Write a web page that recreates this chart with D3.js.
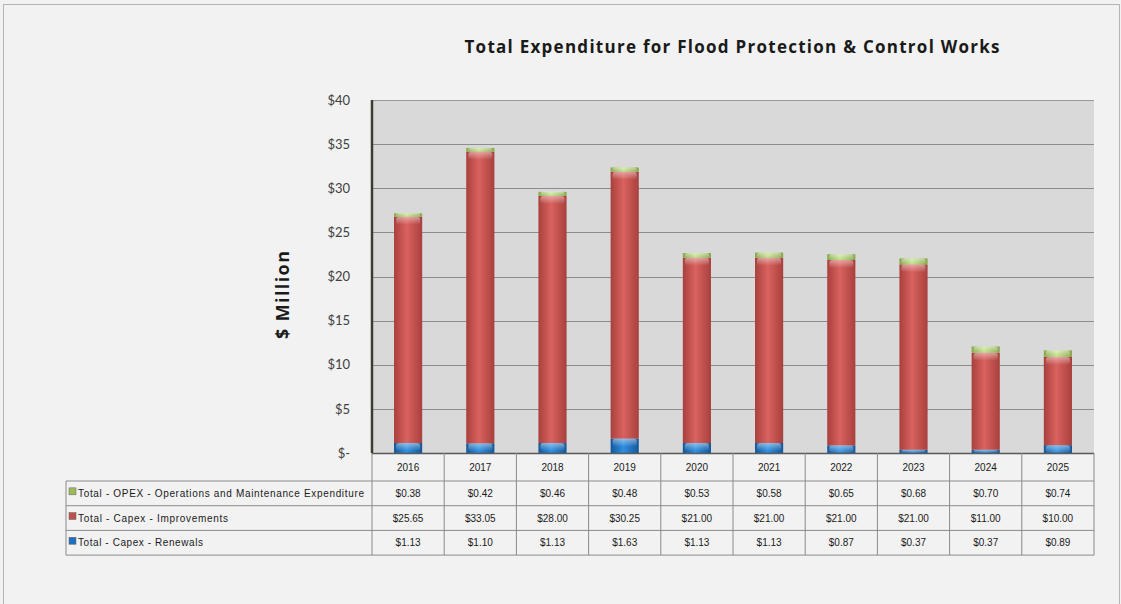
<!DOCTYPE html>
<html>
<head>
<meta charset="utf-8">
<script src="https://cdn.jsdelivr.net/npm/d3@7"></script>
<style>
    body { margin: 0; background: #f2f2f2; }
    svg { display: block; font-family: 'Liberation Sans', Arial, sans-serif; }
</style>
</head>
<body>
<div id="chart"></div>
<script>
'use strict';

// data
var years = ['2016', '2017', '2018', '2019', '2020', '2021', '2022', '2023', '2024', '2025']
var opex = [0.38, 0.42, 0.46, 0.48, 0.53, 0.58, 0.65, 0.68, 0.70, 0.74]
var improvements = [25.65, 33.05, 28.00, 30.25, 21.00, 21.00, 21.00, 21.00, 11.00, 10.00]
var renewals = [1.13, 1.10, 1.13, 1.63, 1.13, 1.13, 0.87, 0.37, 0.37, 0.89]
var yTicks = [0, 5, 10, 15, 20, 25, 30, 35, 40]

var seriesNames = ['Total - OPEX - Operations and Maintenance Expenditure', 'Total - Capex - Improvements', 'Total - Capex - Renewals']
var seriesKeys = ['opex', 'imp', 'ren']

var width = 1121, height = 604
var plot = { left: 372, right: 1094, top: 100, bottom: 453 }
var table = { left: 66, yearRow: 481, rowH: 24.7 }
var labelLen = [286, 150, 125] // widths of the row labels in the table

var svg = d3.select('#chart').append('svg').attr('width', width).attr('height', height)

// colour gradients (edge - centre - edge) to mimic the 3d cylinder look
var colors = {
    ren: ['#14579a', '#2f8fe0', '#14579a'],
    imp: ['#a8403d', '#d9625e', '#a8403d'],
    opex: ['#86a64a', '#c2df8a', '#86a64a']
}
var defs = svg.append('defs')
seriesKeys.forEach(function(k) {
    var g = defs.append('linearGradient').attr('id', 'g_' + k).attr('x1', 0).attr('x2', 1).attr('y1', 0).attr('y2', 0)
    g.append('stop').attr('offset', '0%').attr('stop-color', colors[k][0])
    g.append('stop').attr('offset', '45%').attr('stop-color', colors[k][1])
    g.append('stop').attr('offset', '100%').attr('stop-color', colors[k][2])
})
var topG = defs.append('linearGradient').attr('id', 'g_top').attr('x1', 0).attr('x2', 0).attr('y1', 0).attr('y2', 1)
topG.append('stop').attr('offset', '0%').attr('stop-color', '#fff').attr('stop-opacity', 0.45)
topG.append('stop').attr('offset', '100%').attr('stop-color', '#fff').attr('stop-opacity', 0)

// outer frame
svg.append('rect').attr('x', 3.5).attr('y', 4.5).attr('width', 1116).attr('height', 600)
    .attr('fill', '#f2f2f2').attr('stroke', '#b4b4b4')

var x = d3.scaleBand().domain(years).range([plot.left, plot.right]).padding(0)
var y = d3.scaleLinear().domain([0, 40]).range([plot.bottom, plot.top])
var barW = x.bandwidth() * 0.39

// plot area
svg.append('rect').attr('x', plot.left).attr('y', plot.top)
    .attr('width', plot.right - plot.left).attr('height', plot.bottom - plot.top)
    .attr('fill', '#d9d9d9')

svg.append('g').selectAll('line').data(yTicks.slice(1)).enter().append('line')
    .attr('x1', plot.left).attr('x2', plot.right)
    .attr('y1', function(d) { return Math.round(y(d)) + 0.5 })
    .attr('y2', function(d) { return Math.round(y(d)) + 0.5 })
    .attr('stroke', function(d) { return d == 40 ? '#9a9a9a' : '#8c8c8c' })

// y axis labels
var yAxis = d3.axisLeft(y).tickValues(yTicks).tickSize(0).tickPadding(22)
    .tickFormat(function(d) { return d == 0 ? '$-' : '$' + d })
var ya = svg.append('g').attr('transform', 'translate(' + plot.left + ',0)').call(yAxis)
ya.select('.domain').remove()
ya.selectAll('text').attr('font-size', 13).attr('fill', '#404040').attr('font-family', 'Lato, sans-serif')

// stacked bars
var rows = years.map(function(yr, i) { return { year: yr, ren: renewals[i], imp: improvements[i], opex: opex[i] } })
var stack = d3.stack().keys(['ren', 'imp', 'opex'])(rows)

var layers = svg.append('g').selectAll('g').data(stack).enter().append('g')
layers.each(function(layer) {
    var g = d3.select(this)
    g.selectAll('rect.seg').data(layer).enter().append('rect')
        .attr('class', 'seg')
        .attr('x', function(d) { return x(d.data.year) + (x.bandwidth() - barW) / 2 })
        .attr('y', function(d) { return y(d[1]) })
        .attr('width', barW)
        .attr('height', function(d) { return y(d[0]) - y(d[1]) })
        .attr('fill', 'url(#g_' + layer.key + ')')
    // light top face of each segment
    g.selectAll('rect.hl').data(layer).enter().append('rect')
        .attr('class', 'hl')
        .attr('x', function(d) { return x(d.data.year) + (x.bandwidth() - barW) / 2 + 2 })
        .attr('y', function(d) { return y(d[1]) })
        .attr('width', barW - 4)
        .attr('height', function(d) { return Math.min(8, y(d[0]) - y(d[1])) })
        .attr('rx', 3)
        .attr('fill', 'url(#g_top)')
})

// axis lines
svg.append('line').attr('x1', plot.left).attr('x2', plot.left).attr('y1', plot.top).attr('y2', table.yearRow + 3 * table.rowH)
    .attr('stroke', '#8a8a8a')
svg.append('line').attr('x1', plot.left).attr('x2', plot.left).attr('y1', plot.top).attr('y2', plot.bottom)
    .attr('stroke', '#3c3c30').attr('stroke-width', 2.5)
svg.append('line').attr('x1', plot.left).attr('x2', plot.right).attr('y1', plot.bottom + 0.5).attr('y2', plot.bottom + 0.5)
    .attr('stroke', '#5a5a5a').attr('stroke-width', 1.5)

// data table
var tg = svg.append('g').attr('font-size', 10).attr('fill', '#1a1a1a')
var tableBottom = table.yearRow + 3 * table.rowH
// horizontal lines
tg.append('line').attr('x1', table.left).attr('x2', plot.right).attr('y1', table.yearRow).attr('y2', table.yearRow).attr('stroke', '#8a8a8a')
for (var r = 1; r <= 3; r++) {
    tg.append('line').attr('x1', table.left).attr('x2', plot.right)
        .attr('y1', table.yearRow + r * table.rowH).attr('y2', table.yearRow + r * table.rowH).attr('stroke', '#8a8a8a')
}
// vertical lines
tg.append('line').attr('x1', table.left).attr('x2', table.left).attr('y1', table.yearRow).attr('y2', tableBottom).attr('stroke', '#8a8a8a')
years.forEach(function(yr) {
    var xr = x(yr) + x.bandwidth()
    tg.append('line').attr('x1', xr).attr('x2', xr).attr('y1', plot.bottom).attr('y2', tableBottom).attr('stroke', '#8a8a8a')
})
// year labels
tg.selectAll('text.yr').data(years).enter().append('text')
    .attr('x', function(d) { return x(d) + x.bandwidth() / 2 })
    .attr('y', (plot.bottom + table.yearRow) / 2 + 4)
    .attr('text-anchor', 'middle')
    .text(function(d) { return d })

var tableData = [opex, improvements, renewals]
var keyColors = ['#9bbb59', '#c0504d', '#1f6fc0']
tableData.forEach(function(vals, r) {
    var cy = table.yearRow + r * table.rowH + table.rowH / 2
    tg.append('rect').attr('x', table.left + 3).attr('y', cy - 5.5).attr('width', 7).attr('height', 7)
        .attr('fill', keyColors[r]).attr('stroke', '#666').attr('stroke-width', 0.5)
    tg.append('text').attr('x', table.left + 12).attr('y', cy + 3.5)
        .attr('textLength', labelLen[r]).attr('lengthAdjust', 'spacing')
        .text(seriesNames[r])
    tg.selectAll('text.v' + r).data(vals).enter().append('text')
        .attr('x', function(d, i) { return x(years[i]) + x.bandwidth() / 2 })
        .attr('y', cy + 3.5)
        .attr('text-anchor', 'middle')
        .text(function(d) { return '$' + d.toFixed(2) })
})

// titles
svg.append('text').attr('x', 732).attr('y', 53).attr('text-anchor', 'middle')
    .attr('font-size', 17).attr('font-weight', 'bold').attr('fill', '#1a1a1a').attr('font-family', 'Open Sans, sans-serif')
    .attr('textLength', 535).attr('lengthAdjust', 'spacing')
    .text('Total Expenditure for Flood Protection & Control Works')

svg.append('text').attr('transform', 'translate(289,295) rotate(-90)').attr('text-anchor', 'middle')
    .attr('font-size', 18).attr('font-weight', 'bold').attr('fill', '#1a1a1a').attr('font-family', 'Open Sans, sans-serif')
    .attr('textLength', 88).attr('lengthAdjust', 'spacing')
    .text('$ Million')
</script>
</body>
</html>
